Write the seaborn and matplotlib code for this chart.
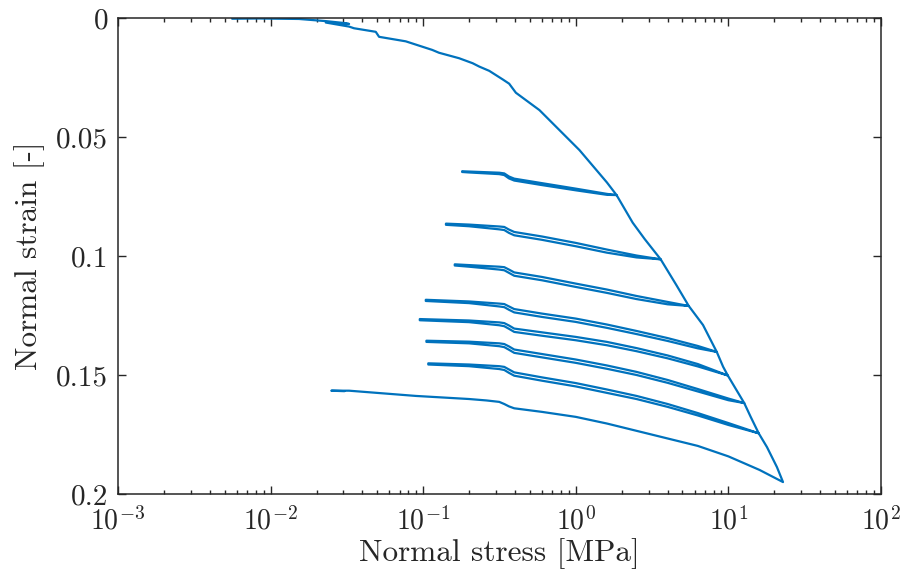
import numpy as np
import pandas as pd
import matplotlib
matplotlib.use("Agg")
import matplotlib.pyplot as plt
import seaborn as sns

# ---------------- data ----------------
# initial virgin loading with a tiny early unload/reload
env0_stress = [0.0056, 0.0084, 0.01535, 0.0230, 0.0303, 0.0327]
env0_strain = [0.0003, 0.0002, 0.0004, 0.0013, 0.0021, 0.0025]
small_loop_stress = [0.0230, 0.0327]
small_loop_strain = [0.0019, 0.0036]
# virgin envelope up to the first peak
env1_stress = [0.0352, 0.0489, 0.0514, 0.0769, 0.1146, 0.127, 0.172, 0.211, 0.233,
               0.271, 0.332, 0.366, 0.405, 0.578, 0.782, 1.057, 1.367, 1.6, 1.85]
env1_strain = [0.0043, 0.0058, 0.0079, 0.0098, 0.0134, 0.0146, 0.0169, 0.0190, 0.0204,
               0.0222, 0.0258, 0.0276, 0.0314, 0.0387, 0.0471, 0.0555, 0.0639, 0.0691, 0.0744]

# unload / reload loops (stress ascending from the loop's left end to its peak)
loop1_stress = [0.18, 0.2, 0.315, 0.34, 0.365, 0.395, 0.6, 1.0, 1.6, 1.85]
loop1_unload = [0.0644, 0.0645, 0.0650, 0.0653, 0.0666, 0.0675, 0.0694, 0.0717, 0.0739, 0.0744]
loop1_reload = [0.0647, 0.0649, 0.0656, 0.0660, 0.0674, 0.0683, 0.0702, 0.0724, 0.0743, 0.0744]
env2_stress = [2.09, 2.36, 2.83, 3.6]
env2_strain = [0.0802, 0.0860, 0.0929, 0.1014]

loop2_stress = [0.141, 0.2, 0.315, 0.34, 0.365, 0.395, 0.6, 1.0, 1.6, 2.5, 3.6]
loop2_unload = [0.0864, 0.0868, 0.0876, 0.0878, 0.0889, 0.0899, 0.0918, 0.0945, 0.0973, 0.0998, 0.1014]
loop2_reload = [0.0869, 0.0875, 0.0888, 0.0891, 0.0903, 0.0913, 0.0932, 0.0959, 0.0986, 0.1006, 0.1014]
env3_stress = [4.56, 5.5]
env3_strain = [0.1122, 0.1210]

loop3_stress = [0.161, 0.2, 0.315, 0.34, 0.365, 0.395, 0.6, 1.0, 1.6, 2.5, 4.0, 5.5]
loop3_unload = [0.1035, 0.1038, 0.1045, 0.1047, 0.1057, 0.1069, 0.1088, 0.1116, 0.1141, 0.1168, 0.1193, 0.1210]
loop3_reload = [0.1040, 0.1045, 0.1057, 0.1060, 0.1071, 0.1083, 0.1102, 0.1130, 0.1155, 0.1181, 0.1203, 0.1210]
env4_stress = [6.82, 8.39]
env4_strain = [0.1290, 0.1403]

loop4_stress = [0.104, 0.2, 0.315, 0.34, 0.365, 0.395, 0.6, 1.0, 1.6, 2.5, 4.0, 6.3, 8.39]
loop4_unload = [0.1184, 0.1191, 0.1200, 0.1202, 0.1212, 0.1223, 0.1242, 0.1263, 0.1288, 0.1315, 0.1345, 0.1378, 0.1403]
loop4_reload = [0.1189, 0.1198, 0.1212, 0.1215, 0.1226, 0.1237, 0.1256, 0.1277, 0.1302, 0.1328, 0.1357, 0.1388, 0.1403]
env5_stress = [9.23, 9.91]
env5_strain = [0.1465, 0.1502]

loop5_stress = [0.095, 0.2, 0.315, 0.34, 0.365, 0.395, 0.6, 1.0, 1.6, 2.5, 4.0, 6.3, 9.91]
loop5_unload = [0.1265, 0.1271, 0.1279, 0.1282, 0.1292, 0.1305, 0.1321, 0.1340, 0.1361, 0.1387, 0.1418, 0.1454, 0.1502]
loop5_reload = [0.1270, 0.1278, 0.1291, 0.1295, 0.1306, 0.1319, 0.1335, 0.1354, 0.1375, 0.1400, 0.1430, 0.1464, 0.1502]
env6_stress = [11.3, 12.7]
env6_strain = [0.1563, 0.1618]

loop6_stress = [0.105, 0.2, 0.315, 0.34, 0.365, 0.395, 0.6, 1.0, 1.6, 2.5, 4.0, 6.3, 10.0, 12.7]
loop6_unload = [0.1356, 0.1360, 0.1367, 0.1370, 0.1380, 0.1393, 0.1412, 0.1435, 0.1460, 0.1487, 0.1521, 0.1559, 0.1599, 0.1618]
loop6_reload = [0.1361, 0.1367, 0.1379, 0.1383, 0.1394, 0.1407, 0.1426, 0.1449, 0.1474, 0.1500, 0.1533, 0.1569, 0.1606, 0.1618]
env7_stress = [14.0, 15.8]
env7_strain = [0.1676, 0.1745]

loop7_stress = [0.108, 0.2, 0.315, 0.34, 0.365, 0.395, 0.6, 1.0, 1.6, 2.5, 4.0, 6.3, 10.0, 15.8]
loop7_unload = [0.1451, 0.1456, 0.1463, 0.1466, 0.1477, 0.1489, 0.1510, 0.1534, 0.1561, 0.1588, 0.1622, 0.1660, 0.1702, 0.1745]
loop7_reload = [0.1456, 0.1463, 0.1475, 0.1479, 0.1491, 0.1503, 0.1524, 0.1548, 0.1575, 0.1601, 0.1634, 0.1670, 0.1710, 0.1745]
env8_stress = [17.9, 20.8, 22.8]
env8_strain = [0.1803, 0.1887, 0.1950]

# final unloading (stress ascending) and short final reload
final_stress = [0.025, 0.0327, 0.0895, 0.2, 0.26, 0.315, 0.34, 0.365, 0.395,
                0.6, 1.0, 1.6, 2.5, 4.0, 6.3, 10.0, 16.0, 22.8]
final_strain = [0.1566, 0.1566, 0.1588, 0.1601, 0.1607, 0.1613, 0.1622, 0.1632, 0.1640,
                0.1655, 0.1676, 0.1704, 0.1735, 0.1767, 0.1798, 0.1842, 0.1899, 0.1950]
final_reload_stress = [0.0305]
final_reload_strain = [0.1568]

# ---------------- build the measurement path in order ----------------
xs, ys = [], []
def add(sx, sy):
    xs.extend(sx); ys.extend(sy)

add(env0_stress, env0_strain)
add(small_loop_stress, small_loop_strain)
add(env1_stress, env1_strain)
loops = [
    (loop1_stress, loop1_unload, loop1_reload, env2_stress, env2_strain),
    (loop2_stress, loop2_unload, loop2_reload, env3_stress, env3_strain),
    (loop3_stress, loop3_unload, loop3_reload, env4_stress, env4_strain),
    (loop4_stress, loop4_unload, loop4_reload, env5_stress, env5_strain),
    (loop5_stress, loop5_unload, loop5_reload, env6_stress, env6_strain),
    (loop6_stress, loop6_unload, loop6_reload, env7_stress, env7_strain),
    (loop7_stress, loop7_unload, loop7_reload, env8_stress, env8_strain),
]
for ls, lu, lr, es, ee in loops:
    add(ls[::-1], lu[::-1])
    add(ls, lr)
    add(es, ee)
add(final_stress[::-1], final_strain[::-1])
add(final_reload_stress, final_reload_strain)

df = pd.DataFrame({"stress": xs, "strain": ys})

# ---------------- styling ----------------
sns.set_theme(style="ticks")
plt.rcParams.update({
    "font.family": ["cmr10", "DejaVu Serif"],
    "mathtext.fontset": "cm",
    "axes.formatter.use_mathtext": True,
    "axes.unicode_minus": False,
    "text.color": "#262626",
    "axes.labelcolor": "#262626",
    "xtick.color": "#262626",
    "ytick.color": "#262626",
})

fig = plt.figure(figsize=(9.06, 5.83), dpi=100)
ax = fig.add_axes([0.1302, 0.1527, 0.9724 - 0.1302, 0.9691 - 0.1527])

sns.lineplot(data=df, x="stress", y="strain", sort=False, estimator=None,
             color="#0072BD", linewidth=1.6, ax=ax)
for ln in ax.get_lines():
    ln.set_solid_joinstyle("round")

ax.set_xscale("log")
ax.set_xlim(1e-3, 1e2)
ax.set_ylim(0.2, 0.0)
yticks = [0, 0.05, 0.1, 0.15, 0.2]
ytick_labels = ["0", "0.05", "0.1", "0.15", "0.2"]
ax.set_yticks(yticks)
ax.set_yticklabels(ytick_labels)
ax.set_xticks([1e-3, 1e-2, 1e-1, 1e0, 1e1, 1e2])

ax.set_xlabel("Normal stress [MPa]", fontsize=22.5, labelpad=2)
ax.set_ylabel("Normal strain [-]", fontsize=22.5, labelpad=8)

ax.tick_params(which="both", direction="in", top=True, right=True,
               color="#262626", width=1.0)
ax.tick_params(which="major", length=6)
ax.tick_params(which="minor", length=3)
ax.tick_params(axis="x", which="major", labelsize=20, pad=9)
ax.tick_params(axis="y", which="major", labelsize=21, pad=7)
for s in ax.spines.values():
    s.set_visible(True)
    s.set_linewidth(1.1)
    s.set_color("#262626")

fig.savefig("out.png", dpi=100)
